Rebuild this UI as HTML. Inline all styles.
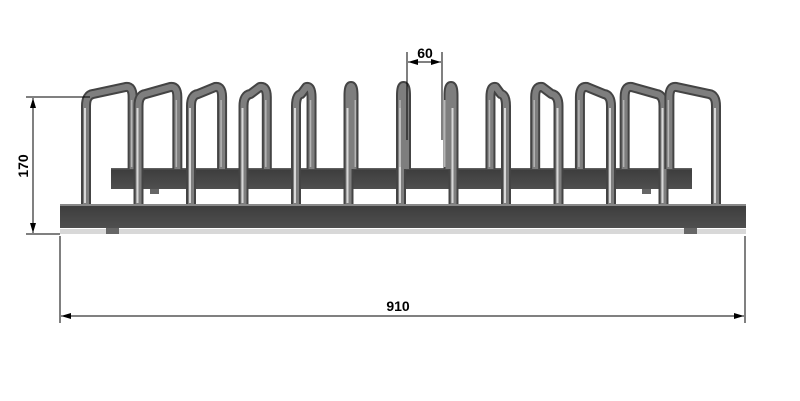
<!DOCTYPE html>
<html><head><style>body{margin:0;background:#fff}svg{display:block}</style></head><body>
<svg width="800" height="401" viewBox="0 0 800 401" xmlns="http://www.w3.org/2000/svg" font-family="Liberation Sans, sans-serif">
<defs>
<linearGradient id="bar" x1="0" y1="0" x2="0" y2="1"><stop offset="0" stop-color="#6a6a6a"/><stop offset="0.1" stop-color="#3e3e3e"/><stop offset="1" stop-color="#4f4f4f"/></linearGradient>
<marker id="a" markerWidth="10" markerHeight="6" refX="10" refY="3" orient="auto-start-reverse" markerUnits="userSpaceOnUse"><path d="M0,0 L10,3 L0,6 Z" fill="#000"/></marker>
</defs>
<rect x="60" y="229" width="686" height="5" fill="#d8d8d8"/>
<rect x="111" y="168" width="581" height="21" fill="url(#bar)"/>
<rect x="150" y="189" width="9" height="5" fill="#666"/>
<rect x="642" y="189" width="9" height="5" fill="#666"/>
<g id="hoops" fill="none" stroke-linejoin="round" stroke-linecap="butt"></g>
<rect x="60" y="204" width="686" height="24" fill="url(#bar)"/>
<rect x="60" y="204" width="686" height="2" fill="#888"/>
<rect x="106" y="228" width="13" height="6" fill="#666"/>
<rect x="684" y="228" width="13" height="6" fill="#666"/>
<g stroke="#000" stroke-width="1" fill="none">
<line x1="26" y1="97" x2="90" y2="97"/>
<line x1="26" y1="234" x2="60" y2="234"/>
<line x1="33" y1="98" x2="33" y2="233" marker-start="url(#a)" marker-end="url(#a)"/>
<line x1="60" y1="236" x2="60" y2="323"/>
<line x1="745" y1="236" x2="745" y2="323"/>
<line x1="61" y1="316" x2="744" y2="316" marker-start="url(#a)" marker-end="url(#a)"/>
<line x1="407" y1="52" x2="407" y2="140"/>
<line x1="442" y1="52" x2="442" y2="140"/>
<line x1="408" y1="62" x2="441" y2="62" marker-start="url(#a)" marker-end="url(#a)"/>
</g>
<text x="398" y="311" font-size="14" font-weight="bold" text-anchor="middle">910</text>
<text x="425" y="58" font-size="14" font-weight="bold" text-anchor="middle">60</text>
<text transform="translate(28,166) rotate(-90)" font-size="14" font-weight="bold" text-anchor="middle">170</text>
</svg>
<script>
var g=document.getElementById('hoops'),s='';
for(var i=0;i<13;i++){var fx=86+52.5*i,bx=fx+(401-fx)*0.148,sg=bx>=fx?1:-1,d,off=Math.abs(bx-fx);
if(off<8){var w=5*sg||5;d='M'+fx+',205 L'+fx+',96 Q'+fx+',86 '+(fx+w/2)+',86 Q'+(fx+w)+',86 '+(fx+w)+',96 L'+(fx+w)+',169';}
else{var r=Math.min(7,off/3);d='M'+fx+',205 L'+fx+',106 Q'+fx+',95 '+(fx+r*sg)+',94 L'+(bx-r*sg)+',87 Q'+bx+',86 '+bx+',97 L'+bx+',169';}
s+='<path d="'+d+'" stroke="#444" stroke-width="10"/>';
s+='<path d="'+d+'" stroke="#7e7e7e" stroke-width="6"/>';
s+='<path d="M'+(fx-1)+',203 L'+(fx-1)+',108" stroke="#d8d8d8" stroke-width="2"/>';
s+='<path d="M'+(bx-1)+',167 L'+(bx-1)+',100" stroke="#b5b5b5" stroke-width="1.5"/>';}
g.innerHTML=s;
</script>
</body></html>
